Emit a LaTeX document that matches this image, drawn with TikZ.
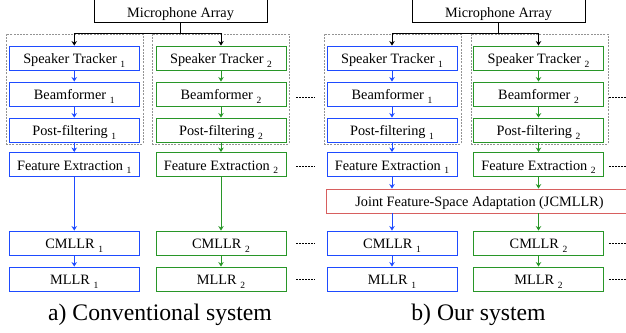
\documentclass[tikz,border=0pt]{standalone}
\usepackage{fontspec}
\IfFontExistsTF{LiberationSerif-Regular.ttf}{%
  \setmainfont{LiberationSerif-Regular.ttf}}{%
  \IfFontExistsTF{texgyretermes-regular.otf}{%
    \setmainfont{texgyretermes-regular.otf}}{%
    \setmainfont{Liberation Serif}}}
\usetikzlibrary{arrows.meta,calc}
\definecolor{cblue}{RGB}{30,75,255}
\definecolor{cgreen}{RGB}{40,150,40}
\definecolor{cred}{RGB}{215,95,95}
\newcommand{\sbs}[1]{\raisebox{-3.5pt}{\fontsize{9.5}{10}\selectfont #1}}
\begin{document}
\begin{tikzpicture}[x=1pt,y=-1pt,
  box/.style={draw, line width=0.9pt, minimum width=130pt, minimum height=24pt, inner sep=0pt,
    text height=11pt, text depth=0pt, font=\fontsize{14.3}{16}\selectfont},
  bbox/.style={box, draw=cblue},
  gbox/.style={box, draw=cgreen},
  mbox/.style={box, draw=black, minimum width=173pt, minimum height=28pt},
  jbox/.style={box, draw=cred, minimum width=314pt},
  grp/.style={draw=gray!85, line width=0.9pt, dash pattern=on 2pt off 1.2pt, minimum width=137pt, minimum height=110pt, inner sep=0pt},
  arr/.style={-{Stealth[length=4.5pt,width=5.5pt,inset=1.5pt]}, line width=0.9pt},
  dots/.style={line width=0.6pt, dash pattern=on 2pt off 1pt},
  captxt/.style={font=\fontsize{23.7}{26}\selectfont, anchor=base, inner sep=0pt}
]
\useasboundingbox (0,0) rectangle (626,332);

% ---------- a) Conventional system ----------
\node[grp] (ga1) at (74.5,89) {};
\node[grp] (ga2) at (220.5,89) {};
\node[mbox] (mica) at (180.5,8) {\raisebox{-4pt}{Microphone Array}};
\node[bbox] (sta1) at (74.25,58) {Speaker Tracker \sbs{1}};
\node[bbox] (bfa1) at (74.25,94) {Beamformer \sbs{1}};
\node[bbox] (pfa1) at (74.25,130) {Post-filtering \sbs{1}};
\node[bbox] (fea1) at (74.25,164.5) {Feature Extraction \sbs{1}};
\node[bbox] (cma1) at (74.25,243) {CMLLR \sbs{1}};
\node[bbox] (mla1) at (74.25,279) {MLLR \sbs{1}};
\node[gbox] (sta2) at (221,58) {Speaker Tracker \sbs{2}};
\node[gbox] (bfa2) at (221,94) {Beamformer \sbs{2}};
\node[gbox] (pfa2) at (221,130) {Post-filtering \sbs{2}};
\node[gbox] (fea2) at (221,164.5) {Feature Extraction \sbs{2}};
\node[gbox] (cma2) at (221,243) {CMLLR \sbs{2}};
\node[gbox] (mla2) at (221,279) {MLLR \sbs{2}};
\node[captxt] (capa) at (160,320) {a) Conventional system};

\draw[line width=0.9pt] (mica.south) -- ++(0,11) coordinate (ja);
\draw[arr] (ja) -| (sta1.north);
\draw[arr] (ja) -| (sta2.north);
\draw[arr, cblue] (sta1) -- (bfa1);
\draw[arr, cblue] (bfa1) -- (pfa1);
\draw[arr, cblue] (pfa1) -- (fea1);
\draw[arr, cblue] (fea1) -- (cma1);
\draw[arr, cblue] (cma1) -- (mla1);
\draw[arr, cgreen] (sta2) -- (bfa2);
\draw[arr, cgreen] (bfa2) -- (pfa2);
\draw[arr, cgreen] (pfa2) -- (fea2);
\draw[arr, cgreen] (fea2) -- (cma2);
\draw[arr, cgreen] (cma2) -- (mla2);
\draw[dots] ($(bfa2.east)+(10,3)$) -- ++(19,0);
\draw[dots] ($(fea2.east)+(10,1.5)$) -- ++(19,0);
\draw[dots] ($(cma2.east)+(10,0)$) -- ++(19,0);
\draw[dots] ($(mla2.east)+(10,0)$) -- ++(19,0);

% ---------- b) Our system ----------
\node[grp] (gb1) at (392.5,89) {};
\node[grp] (gb2) at (539.5,89) {};
\node[mbox] (micb) at (498.5,8) {\raisebox{-4pt}{Microphone Array}};
\node[bbox] (stb1) at (392,58) {Speaker Tracker \sbs{1}};
\node[bbox] (bfb1) at (392,94) {Beamformer \sbs{1}};
\node[bbox] (pfb1) at (392,130) {Post-filtering \sbs{1}};
\node[bbox] (feb1) at (392,164.5) {Feature Extraction \sbs{1}};
\node[bbox] (cmb1) at (392,243) {CMLLR \sbs{1}};
\node[bbox] (mlb1) at (392,279) {MLLR \sbs{1}};
\node[gbox] (stb2) at (538.5,58) {Speaker Tracker \sbs{2}};
\node[gbox] (bfb2) at (538.5,94) {Beamformer \sbs{2}};
\node[gbox] (pfb2) at (538.5,130) {Post-filtering \sbs{2}};
\node[gbox] (feb2) at (538.5,164.5) {Feature Extraction \sbs{2}};
\node[gbox] (cmb2) at (538.5,243) {CMLLR \sbs{2}};
\node[gbox] (mlb2) at (538.5,279) {MLLR \sbs{2}};
\node[jbox, anchor=west] (jc) at (326,201) {\hspace*{-8pt}Joint Feature-Space Adaptation (JCMLLR)};
\node[captxt] (capb) at (478.5,320) {b) Our system};

\draw[line width=0.9pt] (micb.south) -- ++(0,11) coordinate (jb);
\draw[arr] (jb) -| (stb1.north);
\draw[arr] (jb) -| (stb2.north);
\draw[arr, cblue] (stb1) -- (bfb1);
\draw[arr, cblue] (bfb1) -- (pfb1);
\draw[arr, cblue] (pfb1) -- (feb1);
\draw[arr, cblue] (feb1) -- (feb1 |- jc.north);
\draw[arr, cblue] (feb1 |- jc.south) -- (cmb1);
\draw[arr, cblue] (cmb1) -- (mlb1);
\draw[arr, cgreen] (stb2) -- (bfb2);
\draw[arr, cgreen] (bfb2) -- (pfb2);
\draw[arr, cgreen] (pfb2) -- (feb2);
\draw[arr, cgreen] (feb2) -- (feb2 |- jc.north);
\draw[arr, cgreen] (feb2 |- jc.south) -- (cmb2);
\draw[arr, cgreen] (cmb2) -- (mlb2);
\draw[dots] ($(bfb2.east)+(5,3)$) -- ++(25,0);
\draw[dots] ($(feb2.east)+(5,1.5)$) -- ++(25,0);
\draw[dots] ($(cmb2.east)+(5,0)$) -- ++(25,0);
\draw[dots] ($(mlb2.east)+(5,0)$) -- ++(25,0);
\end{tikzpicture}
\end{document}
